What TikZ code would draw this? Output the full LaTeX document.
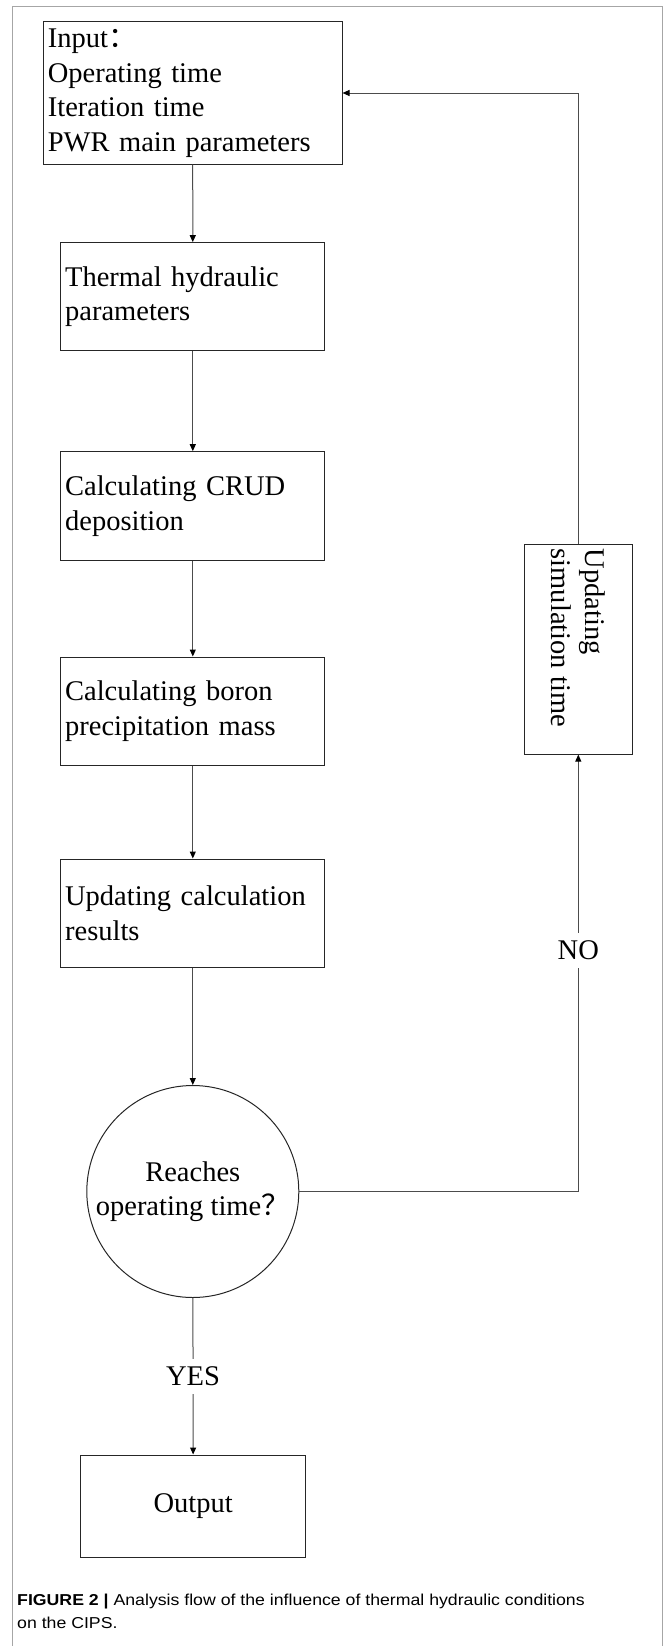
\documentclass[tikz,border=0pt]{standalone}
\usepackage{fontspec}
\usepackage{graphicx}
\setmainfont{Liberation Serif}
\newfontfamily\capfont{Liberation Sans}[FakeStretch=1.12]
\newfontfamily\cjk{Noto Sans CJK SC}
\usetikzlibrary{arrows.meta,shapes.geometric}

\begin{document}
\begin{tikzpicture}[x=1pt, y=-1pt,
    txt/.style={font=\fontsize{28.5}{34.5}\selectfont, execute at begin node={\hyphenpenalty=10000\relax}},
    box/.style={txt, draw=black!85, line width=1pt, inner xsep=4.5pt, align=left},
    con/.style={draw=black!70, line width=1pt, -{Triangle[length=7pt,width=6pt,color=black]}},
    lab/.style={txt, fill=white, inner xsep=2pt, inner ysep=8pt}]
  \useasboundingbox (0,0) rectangle (666,1646);
  \draw [color=black!35, line width=1.5pt] (12.7,1646) -- (12.7,6.7) -- (662.7,6.7) -- (662.7,1646);

  \node [box, text width=289.7pt, minimum height=142pt] (In) at (192.7,93) {Input{\cjk ：}\\Operating time\\Iteration time\\PWR main parameters};
  \node [box, text width=255.3pt, minimum height=108.3pt] (TH) at (192.8,296.8) {Thermal hydraulic\\parameters};
  \node [box, text width=255.3pt, minimum height=109pt] (CRUD) at (192.8,506.2) {Calculating CRUD\\deposition};
  \node [box, text width=255.3pt, minimum height=108pt] (Boron) at (192.8,711) {Calculating boron\\precipitation mass};
  \node [box, text width=255.3pt, minimum height=108pt] (Res) at (192.8,913) {Updating calculation\\results};
  \node [txt, circle, draw=black!85, line width=1pt, minimum size=212pt, inner sep=0pt, align=center] (Dec) at (192.8,1191.5) {Reaches\\operating time{\cjk ？}};
  \node [box, minimum width=225pt, minimum height=102pt, align=center] (Out) at (193.2,1506) {Output};
  \node [box, minimum width=108pt, minimum height=209.7pt, inner sep=0pt] (Sim) at (578.3,649.2) {\rotatebox{-90}{\parbox{201pt}{Updating\\simulation time}}};

  \draw [con] (In) -- (TH);
  \draw [con] (TH) -- (CRUD);
  \draw [con] (CRUD) -- (Boron);
  \draw [con] (Boron) -- (Res);
  \draw [con] (Res) -- (Dec);
  \draw [con] (Dec) -- node [lab] {YES} (Out);
  \draw [con] (Dec.east) -| node [lab, pos=0.776] {NO} (Sim.south);
  \draw [con] (Sim.north) |- (In.east);

  \node [anchor=west, align=left, inner sep=0pt, font=\capfont\fontsize{15.8}{23}\selectfont] (Cap) at (17,1611) {\textbf{FIGURE 2 |} Analysis flow of the influence of thermal hydraulic conditions\\on the CIPS.};
\end{tikzpicture}
\end{document}
